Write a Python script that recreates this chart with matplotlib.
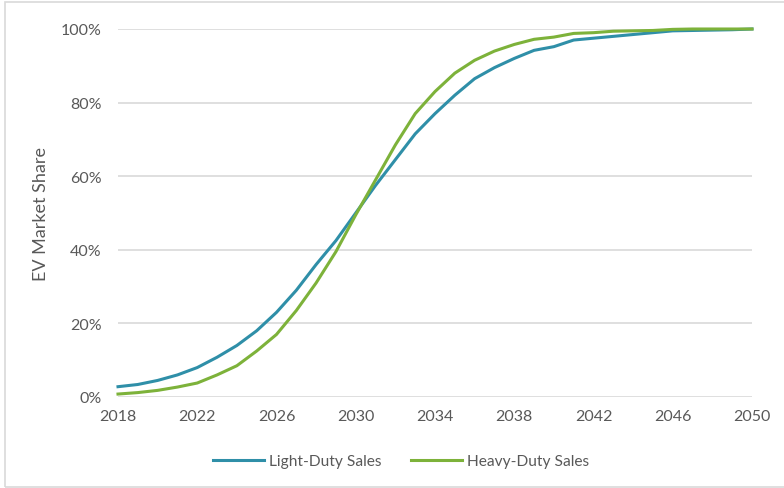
import matplotlib

matplotlib.use("Agg")
import matplotlib.pyplot as plt
from matplotlib.patches import Rectangle
from matplotlib.ticker import FuncFormatter

# EV share of new sales, percent, one value per year
years = list(range(2018, 2051))
light_duty = [2.8, 3.4, 4.5, 6.0, 8.0, 10.8, 14.0, 18.0, 23.0, 29.0, 36.0,
              42.5, 50.0, 57.5, 64.5, 71.5, 77.0, 82.0, 86.5, 89.5, 92.0,
              94.2, 95.2, 97.0, 97.5, 98.0, 98.5, 99.0, 99.5, 99.6, 99.7,
              99.8, 100.0]
heavy_duty = [0.8, 1.2, 1.8, 2.7, 3.8, 6.0, 8.5, 12.5, 17.0, 23.5, 31.0,
              39.5, 49.5, 59.0, 68.5, 77.0, 83.0, 88.0, 91.5, 94.0, 95.8,
              97.2, 97.8, 98.8, 99.0, 99.4, 99.5, 99.6, 99.9, 100.0, 100.0,
              100.0, 100.0]
x_ticks = list(range(2018, 2051, 4))
y_ticks = [0, 20, 40, 60, 80, 100]

TEXT = "#595959"
GRID = "#d9d9d9"
plt.rcParams["font.family"] = ["Lato", "DejaVu Sans"]

fig = plt.figure(figsize=(7.84, 4.89), dpi=100)
fig.patches.append(Rectangle((5 / 784, 0.002), 1.2, 1 - 3 / 489 - 0.002,
                             transform=fig.transFigure, fill=False,
                             edgecolor=GRID, linewidth=1.2))

ax = fig.add_axes([118 / 784, 1 - 398 / 489, (752 - 118) / 784, (398 - 30) / 489])
ax.plot(years, light_duty, color="#2f8fa8", lw=2.2, label="Light-Duty Sales")
ax.plot(years, heavy_duty, color="#7db23a", lw=2.2, label="Heavy-Duty Sales")

ax.set_xlim(2018, 2050)
ax.set_ylim(0, 100)
ax.set_xticks(x_ticks)
ax.set_yticks(y_ticks)
ax.yaxis.set_major_formatter(FuncFormatter(lambda v, _: f"{v:.0f}%"))
ax.tick_params(length=0, labelsize=11.5, labelcolor=TEXT)
ax.tick_params(axis="x", pad=9)
ax.tick_params(axis="y", pad=12)
for s in ax.spines.values():
    s.set_visible(False)
ax.grid(axis="y", color=GRID, lw=1.2)
ax.set_axisbelow(True)
for line in ax.lines:
    line.set_clip_on(False)

ax.set_ylabel("EV Market Share", fontsize=13, color=TEXT, labelpad=8)

fig.legend(loc="center", bbox_to_anchor=(0.511, 1 - 462 / 489), ncol=2,
           frameon=False, fontsize=11.2, labelcolor=TEXT, handlelength=3.3,
           handletextpad=0.3, columnspacing=1.9)

fig.savefig("out.png", dpi=100)
